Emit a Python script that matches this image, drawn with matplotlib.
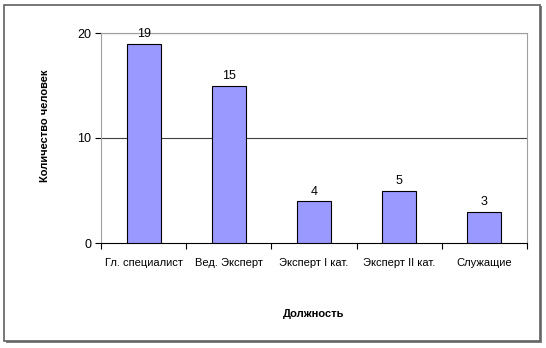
import matplotlib
matplotlib.use("Agg")
from matplotlib import pyplot as plt
from matplotlib.patches import Rectangle
import numpy as np

plt.rcParams['font.family'] = ['Liberation Sans', 'DejaVu Sans']

categories = ['Гл. специалист', 'Вед. Эксперт', 'Эксперт I кат.', 'Эксперт II кат.', 'Служащие']
counts = [19, 15, 4, 5, 3]
yticks = [0, 10, 20]

fig = plt.figure(figsize=(5.46, 3.48), dpi=100)

# outer chart frame with shadow
W, H = 546.0, 348.0
fig.patches.append(Rectangle((6 / W, 1 - 343 / H), 536 / W, 337 / H, transform=fig.transFigure,
                             facecolor='#808080', edgecolor='none', zorder=0))
fig.patches.append(Rectangle((4 / W, 1 - 341 / H), 536 / W, 336 / H, transform=fig.transFigure,
                             facecolor='white', edgecolor='#606060', linewidth=1.2, zorder=1))

ax = fig.add_axes([101 / W, 1 - 243 / H, 426 / W, 210 / H])
ax.set_zorder(2)
x = np.arange(len(categories))
bars = ax.bar(x, counts, width=0.4, color='#9999FF', edgecolor='black', linewidth=0.8, zorder=3)
for xi, v in zip(x, counts):
    ax.text(xi, v + 0.3, str(v), ha='center', va='bottom', fontsize=9)

ax.set_xlim(-0.5, len(categories) - 0.5)
ax.set_ylim(0, 20)
ax.set_yticks(yticks)
for g in yticks[1:]:
    ax.axhline(g, color='#404040', linewidth=0.8, zorder=1)

ax.set_xticks(np.arange(len(categories) + 1) - 0.5, minor=False)
ax.set_xticklabels([])
ax.set_xticks(x, minor=True)
ax.set_xticklabels(categories, minor=True, fontsize=8)
ax.tick_params(axis='x', which='minor', length=0, pad=11)
ax.tick_params(axis='x', which='major', direction='out', length=4, color='black')
ax.tick_params(axis='y', direction='out', length=4, labelsize=9, pad=3)

for s in ['top', 'right']:
    ax.spines[s].set_color('#a0a0a0')
ax.spines['left'].set_color('#a0a0a0')
ax.spines['bottom'].set_color('black')

ax.set_ylabel('Количество человек', fontsize=8, fontweight='bold')
ax.yaxis.set_label_coords(-0.12, 0.56)
ax.set_xlabel('Должность', fontsize=8, fontweight='bold')
ax.xaxis.set_label_coords(0.5, -0.315)

fig.savefig('out.png', dpi=100)
